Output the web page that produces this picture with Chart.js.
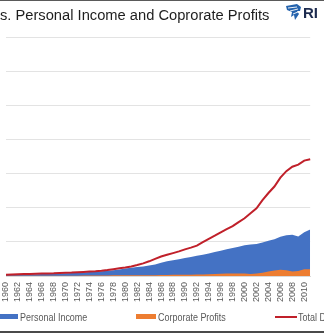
<!DOCTYPE html>
<html>
<head>
<meta charset="utf-8">
<script src="https://cdn.jsdelivr.net/npm/chart.js@4/dist/chart.umd.min.js"></script>
<style>
  html, body { margin:0; padding:0; background:#fff; }
  body { width:324px; height:333px; overflow:hidden; position:relative; font-family:"Liberation Sans", Arial, sans-serif; }
  #topline { position:absolute; left:0; top:0; width:324px; height:1px; background:#5a5a5a; }
  #botline { position:absolute; left:0; bottom:0; width:324px; height:2px; background:#4a4a4a; }
  #title { position:absolute; left:0; top:6px; font-size:14.7px; line-height:18px; color:#1e1e1e; white-space:nowrap; }
  #logo { position:absolute; left:285px; top:3px; width:17px; height:18px; }
  #logotext { position:absolute; left:303px; top:4px; font-size:15px; line-height:18px; font-weight:bold; color:#1d2b4f; white-space:nowrap; }
  #chart { position:absolute; left:0; top:0; }
  .lg { position:absolute; top:310px; font-size:11.5px; line-height:14px; color:#595959; white-space:nowrap; transform:scaleX(0.78); transform-origin:0 0; }
  .sw { position:absolute; }
</style>
</head>
<body>
<canvas id="chart" width="327" height="333"></canvas>
<div id="topline"></div>
<div id="title">s. Personal Income and Coprorate Profits</div>
<svg id="logo" viewBox="0 0 17 18">
  <path d="M1 3 L12 1 L16 4 L15 8 L12 8 L14 11 L10 17 L9 12 L6 14 L7 9 L2 7 Z" fill="#2563ad"/>
  <path d="M3 5 L12 4 M5 8 L13 6 M8 11 L13 9" stroke="#ffffff" stroke-width="0.9" fill="none"/>
</svg>
<div id="logotext">RI</div>
<div class="sw" style="left:0;top:314px;width:18px;height:5px;background:#4472c4"></div>
<div class="lg" style="left:20px">Personal Income</div>
<div class="sw" style="left:136px;top:314px;width:20px;height:5px;background:#ed7d31"></div>
<div class="lg" style="left:158px">Corporate Profits</div>
<div class="sw" style="left:275px;top:316px;width:22px;height:2px;background:#c0202a"></div>
<div class="lg" style="left:298px">Total D</div>
<div id="botline"></div>
<script>
const years = [];
for (let y = 1960; y <= 2011; y++) years.push(String(y));

const totalDebt = [
  0.4, 0.45, 0.5, 0.55, 0.6, 0.65, 0.7, 0.75, 0.8, 0.9,
  0.95, 1.0, 1.1, 1.2, 1.3, 1.4, 1.55, 1.75, 2.0, 2.25,
  2.5, 2.8, 3.2, 3.7, 4.3, 5.0, 5.7, 6.2, 6.7, 7.2,
  7.8, 8.3, 8.9, 9.9, 10.9, 11.8, 12.8, 13.7, 14.6, 15.8,
  16.9, 18.4, 19.8, 22.2, 24.3, 26.2, 28.8, 30.7, 32.0, 32.6,
  33.8, 34.2
];

const personalIncome = [
  0.4, 0.42, 0.45, 0.47, 0.5, 0.54, 0.59, 0.63, 0.69, 0.75,
  0.8, 0.86, 0.95, 1.05, 1.15, 1.25, 1.38, 1.53, 1.72, 1.93,
  2.17, 2.43, 2.6, 2.8, 3.1, 3.4, 3.9, 4.3, 4.6, 4.9,
  5.3, 5.6, 5.9, 6.2, 6.6, 7.0, 7.4, 7.8, 8.2, 8.6,
  9.0, 9.2, 9.4, 9.8, 10.3, 10.8, 11.5, 11.9, 12.1, 11.6,
  12.8, 13.6
];

const corporateProfits = [
  0.05, 0.05, 0.06, 0.06, 0.07, 0.08, 0.08, 0.08, 0.09, 0.08,
  0.08, 0.09, 0.1, 0.11, 0.11, 0.13, 0.15, 0.17, 0.19, 0.2,
  0.2, 0.21, 0.2, 0.23, 0.25, 0.25, 0.27, 0.3, 0.33, 0.34,
  0.35, 0.38, 0.42, 0.47, 0.52, 0.6, 0.67, 0.75, 0.72, 0.75,
  0.7, 0.6, 0.7, 0.95, 1.3, 1.6, 1.85, 1.7, 1.3, 1.5,
  1.95, 2.0
];

const yMax = 70, yStep = 10;

new Chart(document.getElementById('chart'), {
  type: 'line',
  data: {
    labels: years,
    datasets: [
      { label: 'Total Debt', data: totalDebt, borderColor: '#c0202a', borderWidth: 2,
        pointRadius: 0, fill: false, tension: 0, order: 0 },
      { label: 'Corporate Profits', data: corporateProfits, borderColor: '#ed7d31', backgroundColor: '#ed7d31',
        borderWidth: 0, pointRadius: 0, fill: 'origin', tension: 0, order: 1 },
      { label: 'Personal Income', data: personalIncome, borderColor: '#4472c4', backgroundColor: '#4472c4',
        borderWidth: 0, pointRadius: 0, fill: 'origin', tension: 0, order: 2 }
    ]
  },
  options: {
    responsive: false,
    animation: false,
    devicePixelRatio: 1,
    layout: { padding: { top: 37, bottom: 27, left: 4, right: 0 } },
    plugins: { legend: { display: false }, title: { display: false }, tooltip: { enabled: false } },
    scales: {
      x: {
        type: 'category',
        offset: false,
        grid: { display: false, drawTicks: false },
        border: { display: true, color: '#d9d9d9' },
        ticks: {
          autoSkip: false, maxRotation: 90, minRotation: 90, padding: 6,
          color: '#595959', font: { family: 'Liberation Sans', size: 9 },
          callback: function(v, i) { const y = Number(years[i]); return y % 2 === 0 ? years[i] : ''; }
        },
        afterFit: function(s) { s.height = 30; }
      },
      y: {
        min: 0, max: yMax,
        ticks: { display: false, stepSize: yStep },
        grid: { color: '#e3e3e3', lineWidth: 1, drawTicks: false },
        border: { display: false },
        afterFit: function(s) { s.width = 0; }
      }
    }
  }
});
</script>
</body>
</html>
